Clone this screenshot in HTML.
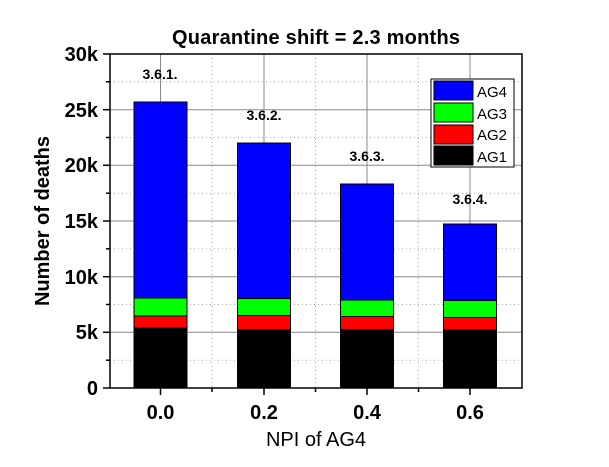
<!DOCTYPE html><html><head><style>body{margin:0;background:#fff}svg{display:block}text{font-family:"Liberation Sans",Arial,sans-serif}</style></head><body>
<svg width="609" height="467" xmlns="http://www.w3.org/2000/svg">
<rect width="609" height="467" fill="#fff"/>
<g stroke="#aaa" stroke-dasharray="1,3" stroke-width="1">
<line x1="110" x2="522" y1="360.2" y2="360.2"/><line x1="110" x2="522" y1="304.5" y2="304.5"/><line x1="110" x2="522" y1="248.8" y2="248.8"/><line x1="110" x2="522" y1="193.2" y2="193.2"/><line x1="110" x2="522" y1="137.5" y2="137.5"/><line x1="110" x2="522" y1="81.8" y2="81.8"/>
<line x1="212" x2="212" y1="54" y2="388"/><line x1="315.5" x2="315.5" y1="54" y2="388"/><line x1="418.5" x2="418.5" y1="54" y2="388"/>
</g>
<g stroke="#888" stroke-width="1">
<line x1="110" x2="522" y1="332.3" y2="332.3"/><line x1="110" x2="522" y1="276.7" y2="276.7"/><line x1="110" x2="522" y1="221" y2="221"/><line x1="110" x2="522" y1="165.3" y2="165.3"/><line x1="110" x2="522" y1="109.7" y2="109.7"/>
<line x1="160.5" x2="160.5" y1="54" y2="388"/><line x1="264" x2="264" y1="54" y2="388"/><line x1="367" x2="367" y1="54" y2="388"/><line x1="470" x2="470" y1="54" y2="388"/>
</g>
<g stroke="#000" stroke-width="1">
<rect x="134" y="102" width="53" height="226" fill="#0000ff"/><rect x="134" y="298" width="53" height="18" fill="#00ff00"/><rect x="134" y="316" width="53" height="12" fill="#ff0000"/><rect x="134" y="328" width="53" height="60" fill="#000"/>
<rect x="237.5" y="143" width="53" height="186" fill="#0000ff"/><rect x="237.5" y="298.5" width="53" height="17" fill="#00ff00"/><rect x="237.5" y="315.5" width="53" height="14" fill="#ff0000"/><rect x="237.5" y="329.5" width="53" height="58.5" fill="#000"/>
<rect x="340.5" y="184" width="53" height="146" fill="#0000ff"/><rect x="340.5" y="300" width="53" height="16.5" fill="#00ff00"/><rect x="340.5" y="316.5" width="53" height="13" fill="#ff0000"/><rect x="340.5" y="329.5" width="53" height="58.5" fill="#000"/>
<rect x="443.5" y="224" width="53" height="106" fill="#0000ff"/><rect x="443.5" y="300.5" width="53" height="17" fill="#00ff00"/><rect x="443.5" y="317.5" width="53" height="12.5" fill="#ff0000"/><rect x="443.5" y="330" width="53" height="58" fill="#000"/>
</g>
<rect x="110" y="54" width="412" height="334" fill="none" stroke="#000" stroke-width="1.5"/>
<g stroke="#000" stroke-width="1.5">
<line x1="103" x2="110" y1="388" y2="388"/><line x1="103" x2="110" y1="332.3" y2="332.3"/><line x1="103" x2="110" y1="276.7" y2="276.7"/><line x1="103" x2="110" y1="221" y2="221"/><line x1="103" x2="110" y1="165.3" y2="165.3"/><line x1="103" x2="110" y1="109.7" y2="109.7"/><line x1="103" x2="110" y1="54" y2="54"/>
<line x1="106" x2="110" y1="360.2" y2="360.2"/><line x1="106" x2="110" y1="304.5" y2="304.5"/><line x1="106" x2="110" y1="248.8" y2="248.8"/><line x1="106" x2="110" y1="193.2" y2="193.2"/><line x1="106" x2="110" y1="137.5" y2="137.5"/><line x1="106" x2="110" y1="81.8" y2="81.8"/>
<line x1="160.5" x2="160.5" y1="388" y2="395"/><line x1="264" x2="264" y1="388" y2="395"/><line x1="367" x2="367" y1="388" y2="395"/><line x1="470" x2="470" y1="388" y2="395"/>
<line x1="212" x2="212" y1="388" y2="392"/><line x1="315.5" x2="315.5" y1="388" y2="392"/><line x1="418.5" x2="418.5" y1="388" y2="392"/>
</g>
<g font-size="20" font-weight="bold" text-anchor="end">
<text x="98" y="395">0</text><text x="98" y="339">5k</text><text x="98" y="284">10k</text><text x="98" y="228">15k</text><text x="98" y="172">20k</text><text x="98" y="117">25k</text><text x="98" y="61">30k</text>
</g>
<g font-size="20" font-weight="bold" text-anchor="middle">
<text x="160.5" y="419">0.0</text><text x="264" y="419">0.2</text><text x="367" y="419">0.4</text><text x="470" y="419">0.6</text>
</g>
<text x="316" y="44" font-size="20" font-weight="bold" text-anchor="middle" textLength="288">Quarantine shift = 2.3 months</text>
<text x="316" y="446" font-size="20" text-anchor="middle">NPI of AG4</text>
<text transform="translate(49,221) rotate(-90)" font-size="20" font-weight="bold" text-anchor="middle">Number of deaths</text>
<g font-size="14" font-weight="bold" text-anchor="middle">
<text x="160" y="79">3.6.1.</text><text x="264" y="120">3.6.2.</text><text x="367" y="161">3.6.3.</text><text x="470" y="204">3.6.4.</text>
</g>
<rect x="431" y="79" width="83" height="88" fill="#fff" stroke="#000" stroke-width="1"/>
<g stroke="#000" stroke-width="1">
<rect x="434" y="81" width="39" height="19" fill="#0000ff"/><rect x="434" y="103" width="39" height="19" fill="#00ff00"/><rect x="434" y="125" width="39" height="19" fill="#ff0000"/><rect x="434" y="146" width="39" height="19" fill="#000"/>
</g>
<g font-size="15">
<text x="477" y="97">AG4</text><text x="477" y="119">AG3</text><text x="477" y="140">AG2</text><text x="477" y="162">AG1</text>
</g>
</svg></body></html>
